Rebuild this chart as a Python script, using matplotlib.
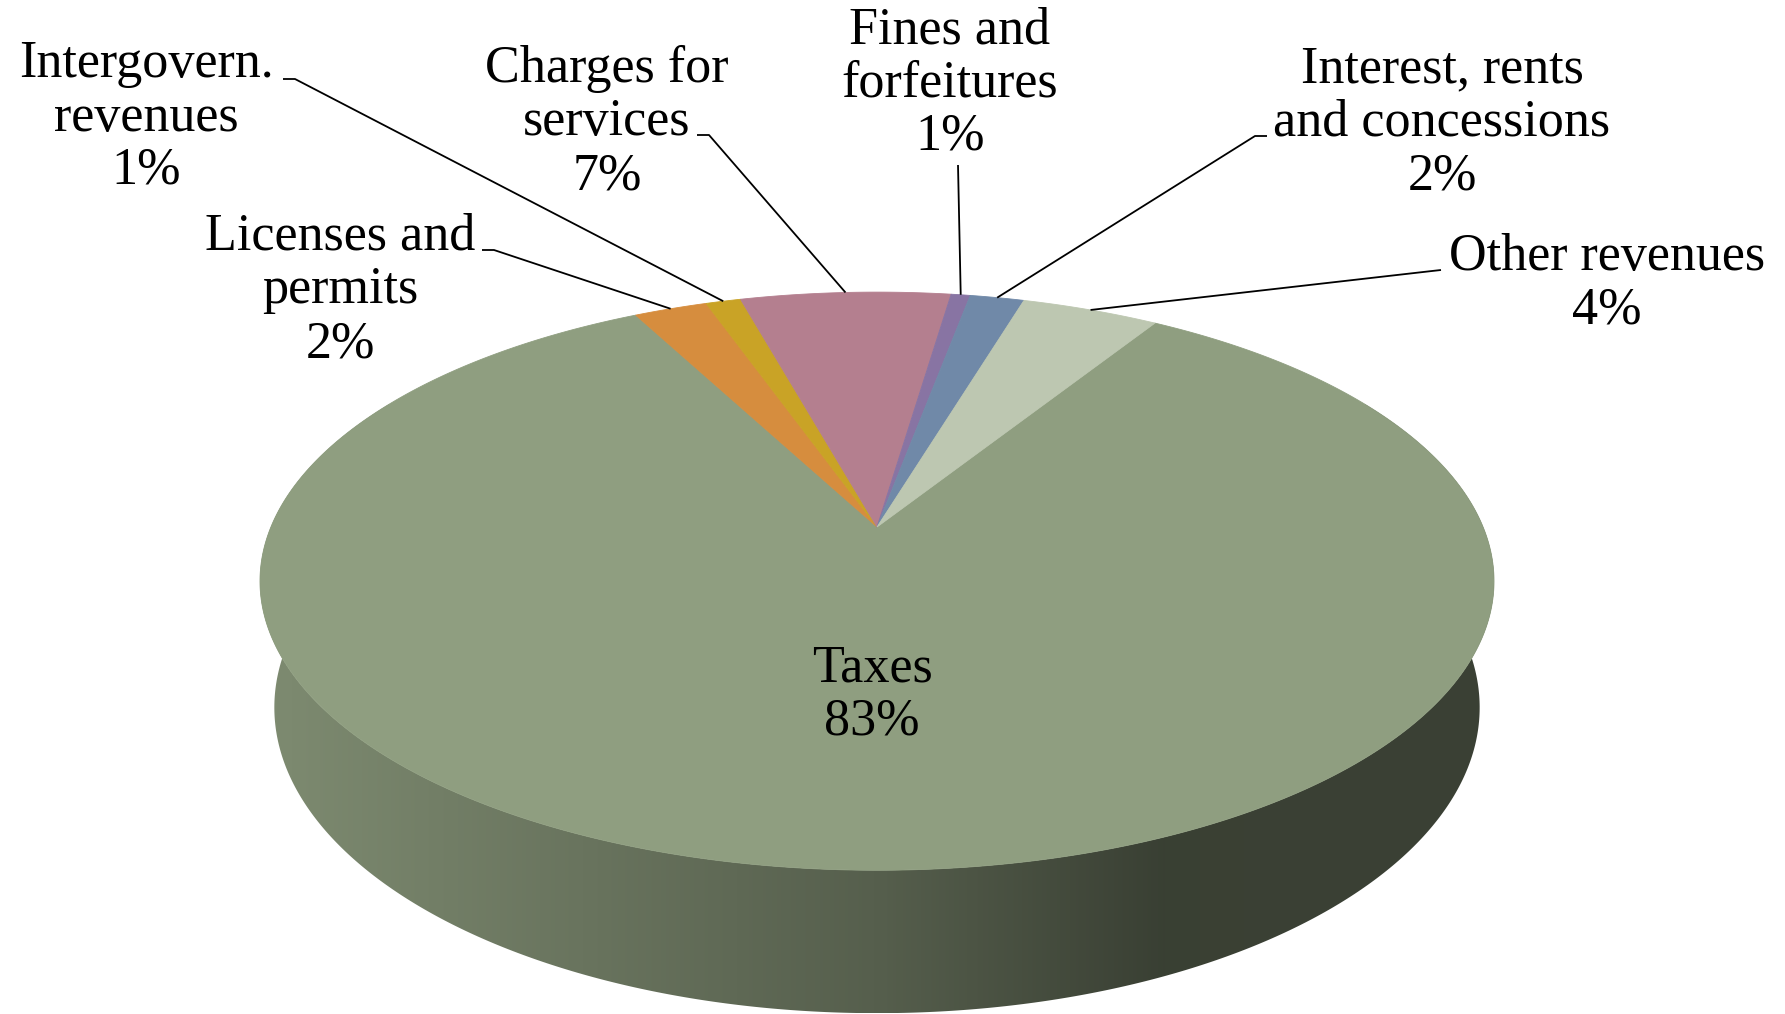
import numpy as np
import matplotlib.pyplot as plt
from matplotlib.patches import Polygon
from matplotlib.colors import LinearSegmentedColormap, to_rgb

plt.rcParams["font.family"] = "serif"
plt.rcParams["font.serif"] = ["Liberation Serif", "DejaVu Serif"]

# data (clockwise from the big slice)
categories = ["Taxes", "Licenses and\npermits", "Intergovern.\nrevenues",
              "Charges for\nservices", "Fines and\nforfeitures",
              "Interest, rents\nand concessions", "Other revenues"]
shares = [83.4, 2.3, 1.1, 6.6, 0.6, 1.7, 4.3]
slice_colors = ["#8F9E80", "#D68D3E", "#C9A326", "#B47F8F",
                "#8874A3", "#7089A8", "#BDC7B1"]

# label layout in pixels (x centre, first baseline), y grows downward
label_xy = [(872, 681), (340, 250), (146, 77), (607, 82),
            (950, 43), (1442, 82), (1607, 270)]
leader_from = [None,
               [(482, 250), (494, 250)],
               [(283, 79), (295, 79)],
               [(697, 135), (709, 135)],
               [(958, 165)],
               [(1267, 136), (1255, 136)],
               [(1441, 270), (1432, 271)]]

W, H = 1785, 1014
fig = plt.figure(figsize=(W / 100, H / 100), dpi=100)
ax = fig.add_axes([0, 0, 1, 1])

# simple perspective camera looking down on a unit-radius disc
CX, CY = 877, 527
FOC, DIST, DEPTH = 2871.0, 4.737, 0.2366
TILT = np.radians(27.4)


def project(theta, z=0.0):
    X, Y = np.cos(theta), np.sin(theta)
    yc = z * np.cos(TILT) + Y * np.sin(TILT)
    dep = DIST + Y * np.cos(TILT) - z * np.sin(TILT)
    return CX + FOC * X / dep, CY - FOC * yc / dep


frac = np.array(shares) / sum(shares)
start = np.radians(57.9)
ends = start - 2 * np.pi * np.cumsum(frac)
starts = ends + 2 * np.pi * frac

# side wall: shaded with the colour of the slice facing the viewer
front = 1.5 * np.pi
k = [i for i in range(len(shares))
     if (starts[i] - front) % (2 * np.pi) < 2 * np.pi * frac[i]]
base = np.array(to_rgb(slice_colors[k[0] if k else 0]))
side_cmap = LinearSegmentedColormap.from_list(
    "side", [(0, base * 0.88), (0.5, base * 0.6), (0.73, base * 0.405), (1, base * 0.41)])

t = np.linspace(np.pi - 0.5, 2 * np.pi + 0.5, 500)
tx, ty = project(t, 0.0)
bx, by = project(t, -DEPTH)
wall = Polygon(np.column_stack([np.r_[tx, bx[::-1]], np.r_[ty, by[::-1]]]),
               closed=True, facecolor="none", edgecolor="none")
ax.add_patch(wall)
x0, x1 = min(tx.min(), bx.min()), max(tx.max(), bx.max())
y0, y1 = min(ty.min(), by.min()), max(ty.max(), by.max())
im = ax.imshow(np.linspace(0, 1, 600).reshape(1, -1), cmap=side_cmap,
               extent=(x0, x1, y1, y0), aspect="auto", zorder=1,
               interpolation="bilinear")
im.set_clip_path(wall)

# top face wedges
for i in range(len(shares)):
    n = max(int(abs(starts[i] - ends[i]) * 120), 4)
    tt = np.linspace(starts[i], ends[i], n)
    rx, ry = project(tt, 0.0)
    pts = np.column_stack([np.r_[CX, rx], np.r_[CY, ry]])
    ax.add_patch(Polygon(pts, closed=True, facecolor=slice_colors[i],
                         edgecolor=slice_colors[i], lw=0.6, zorder=2))

# leader lines
mids = (starts + ends) / 2
for i in range(len(shares)):
    if leader_from[i] is None:
        continue
    ex, ey = project(mids[i], 0.0)
    pts = leader_from[i] + [(ex, ey)]
    ax.plot([p[0] for p in pts], [p[1] for p in pts], color="black",
            lw=1.3, zorder=3, solid_capstyle="butt")

# labels
for i, name in enumerate(categories):
    lines = name.split("\n") + [f"{round(frac[i] * 100)}%"]
    lx, ly = label_xy[i]
    for j, line in enumerate(lines):
        ax.text(lx, ly + j * 53.5, line, ha="center", va="baseline",
                fontsize=37.5, color="black", zorder=4)

ax.set_xlim(0, W)
ax.set_ylim(H, 0)
ax.axis("off")
fig.savefig("out.png", dpi=100, facecolor="white")
